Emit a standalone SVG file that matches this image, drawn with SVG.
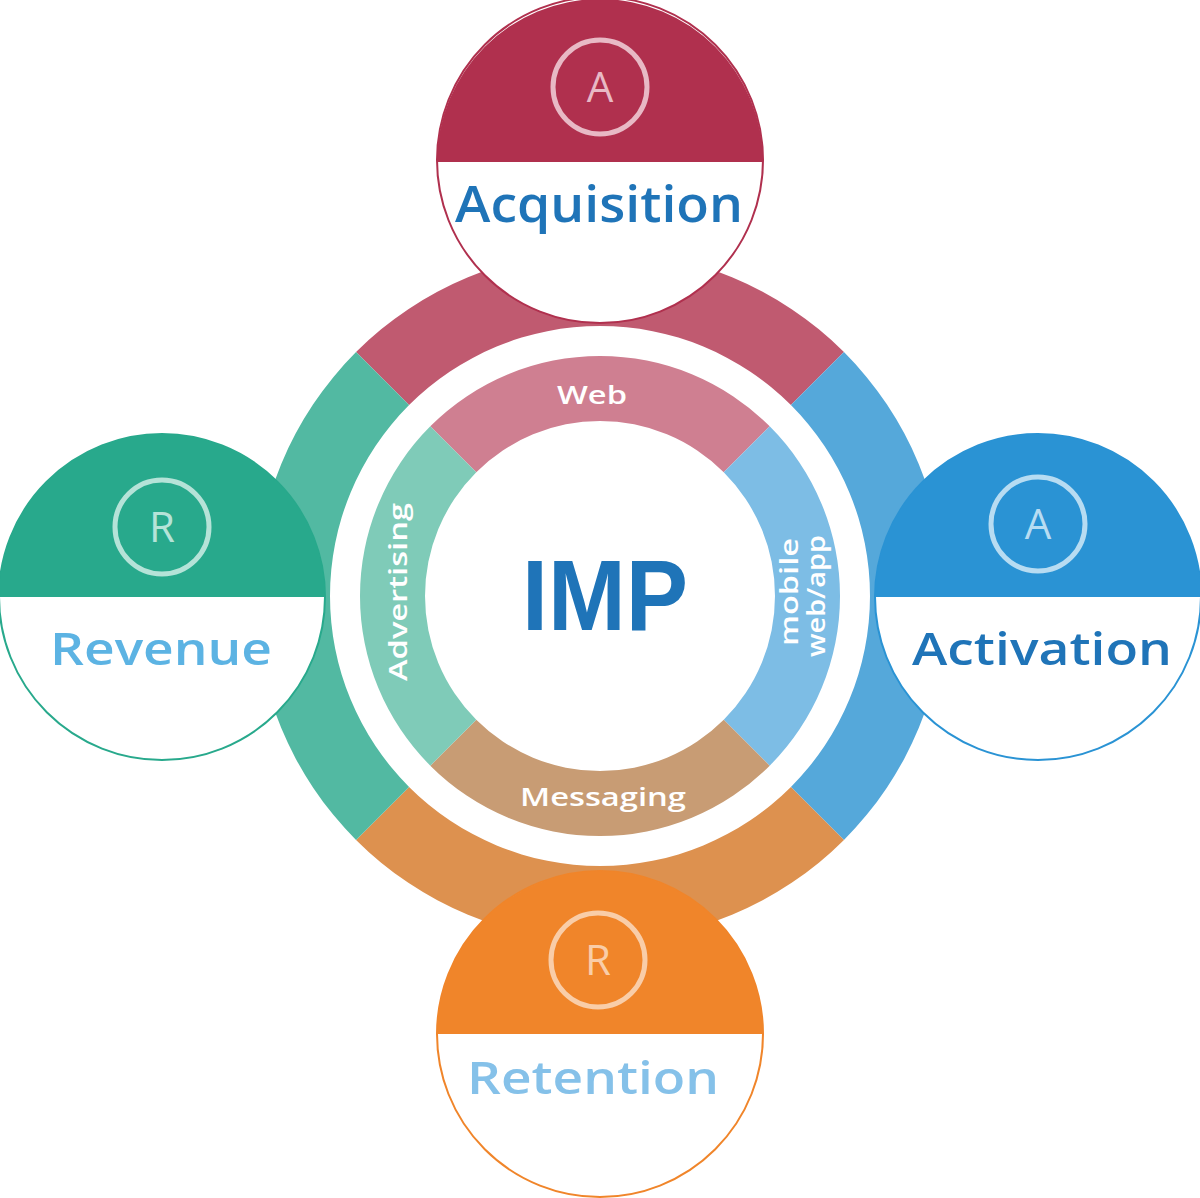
<svg xmlns="http://www.w3.org/2000/svg" width="1200" height="1198" viewBox="0 0 1200 1198">
<style>
.lbl{font-family:"Open Sans","Liberation Sans",sans-serif;font-weight:600;text-anchor:middle}
.seg{font-family:"Open Sans","Liberation Sans",sans-serif;font-weight:600;fill:#fff;font-size:25px;text-anchor:middle}
.let{font-family:"Open Sans","Liberation Sans",sans-serif;font-size:42px;text-anchor:middle}
.badge{fill:none;stroke-width:5}
</style>
<rect width="1200" height="1198" fill="#fff"/>
<g id="outer-ring">
<path d="M356.05 352.05 A345 345 0 0 1 843.95 352.05 L790.92 405.08 A270 270 0 0 0 409.08 405.08 Z" fill="#c05a70"/>
<path d="M843.95 352.05 A345 345 0 0 1 843.95 839.95 L790.92 786.92 A270 270 0 0 0 790.92 405.08 Z" fill="#55a8da"/>
<path d="M843.95 839.95 A345 345 0 0 1 356.05 839.95 L409.08 786.92 A270 270 0 0 0 790.92 786.92 Z" fill="#dd914f"/>
<path d="M356.05 839.95 A345 345 0 0 1 356.05 352.05 L409.08 405.08 A270 270 0 0 0 409.08 786.92 Z" fill="#52b9a2"/>
</g>
<g id="inner-ring">
<path d="M430.29 426.29 A240 240 0 0 1 769.71 426.29 L723.74 472.26 A175 175 0 0 0 476.26 472.26 Z" fill="#cf7f91"/>
<path d="M769.71 426.29 A240 240 0 0 1 769.71 765.71 L723.74 719.74 A175 175 0 0 0 723.74 472.26 Z" fill="#7dbde5"/>
<path d="M769.71 765.71 A240 240 0 0 1 430.29 765.71 L476.26 719.74 A175 175 0 0 0 723.74 719.74 Z" fill="#c89c74"/>
<path d="M430.29 765.71 A240 240 0 0 1 430.29 426.29 L476.26 472.26 A175 175 0 0 0 476.26 719.74 Z" fill="#7fcbb8"/>
<text class="seg" x="592" y="404" textLength="70" lengthAdjust="spacingAndGlyphs">Web</text>
<text class="seg" x="603" y="806" textLength="166" lengthAdjust="spacingAndGlyphs">Messaging</text>
<text class="seg" transform="translate(407 592) rotate(-90)" textLength="178" lengthAdjust="spacingAndGlyphs">Advertising</text>
<text class="seg" transform="translate(798 592) rotate(-90)" textLength="108" lengthAdjust="spacingAndGlyphs">mobile</text>
<text class="seg" transform="translate(825 596) rotate(-90)" textLength="122" lengthAdjust="spacingAndGlyphs">web/app</text>
</g>
<g id="logo">
<text x="605" y="630" font-family="'Liberation Sans',Arial,sans-serif" font-weight="700" font-size="100" fill="#1f74b8" text-anchor="middle" textLength="166" lengthAdjust="spacingAndGlyphs">IMP</text>
</g>
<g id="acquisition">
<circle cx="600" cy="160" r="163" fill="#fff" stroke="#b0304e" stroke-width="2"/>
<path d="M437 162 A163 163 0 0 1 763 162 Z" fill="#b0304e"/>
<circle class="badge" cx="600" cy="87" r="47" stroke="#e8b9c5"/>
<text class="let" x="600" y="102" fill="#e8b9c5">A</text>
<text class="lbl" x="599" y="222" font-size="50" fill="#1f74b8" textLength="288" lengthAdjust="spacingAndGlyphs">Acquisition</text>
</g>
<g id="revenue">
<circle cx="162" cy="597" r="163" fill="#fff" stroke="#28a98c" stroke-width="2"/>
<path d="M-1 597 A163 163 0 0 1 325 597 Z" fill="#28a98c"/>
<circle class="badge" cx="162" cy="527" r="47" stroke="#b5e3d8"/>
<text class="let" x="162" y="542" fill="#b5e3d8">R</text>
<text class="lbl" x="161" y="665" font-size="46" fill="#5cb3e3" textLength="222" lengthAdjust="spacingAndGlyphs">Revenue</text>
</g>
<g id="activation">
<circle cx="1038" cy="597" r="163" fill="#fff" stroke="#2a93d4" stroke-width="2"/>
<path d="M875 597 A163 163 0 0 1 1201 597 Z" fill="#2a93d4"/>
<circle class="badge" cx="1038" cy="524" r="47" stroke="#b7dcf2"/>
<text class="let" x="1038" y="539" fill="#b7dcf2">A</text>
<text class="lbl" x="1042" y="665" font-size="46" fill="#1f74b8" textLength="260" lengthAdjust="spacingAndGlyphs">Activation</text>
</g>
<g id="retention">
<circle cx="600" cy="1034" r="163" fill="#fff" stroke="#f0852a" stroke-width="2"/>
<path d="M437 1034 A163 163 0 0 1 763 1034 Z" fill="#f0852a"/>
<circle class="badge" cx="598" cy="960" r="47" stroke="#f9cda8"/>
<text class="let" x="598" y="975" fill="#f9cda8">R</text>
<text class="lbl" x="593" y="1094" font-size="46" fill="#85c1e9" textLength="252" lengthAdjust="spacingAndGlyphs">Retention</text>
</g>
</svg>
